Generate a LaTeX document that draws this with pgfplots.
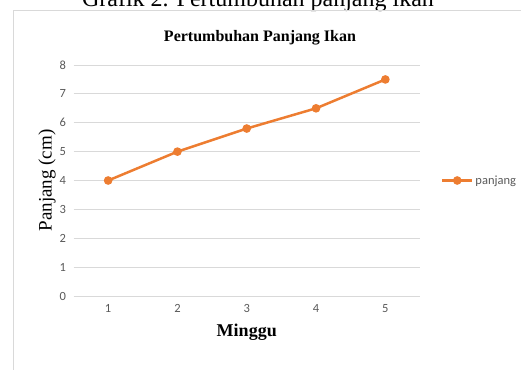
\documentclass[border=0pt]{standalone}
\usepackage{pgfplots}
\pgfplotsset{compat=1.18}
\usepackage{fontspec}
\setmainfont{Liberation Serif}
\newfontfamily\calib{Carlito}
\definecolor{exorange}{HTML}{ED7D31}
\definecolor{gridgray}{HTML}{D9D9D9}
\definecolor{ticktext}{HTML}{595959}
\begin{document}
\begin{tikzpicture}[x=1pt,y=1pt]
\clip (0,0) rectangle (521,369);
\path[use as bounding box] (0,0) rectangle (521,369);
% caption (cropped at top, as in the reference)
\node[anchor=base,font=\fontsize{24}{28}\selectfont] at (258,362) {Grafik 2. Pertumbuhan panjang ikan};
% chart frame
\draw[gridgray,line width=0.8pt] (13.5,-5) -- (13.5,358.5) -- (530,358.5);
% title
\node[anchor=base,font=\bfseries\fontsize{16}{18}\selectfont] at (260,327) {Pertumbuhan Panjang Ikan};
\begin{axis}[
  at={(73.5pt,73pt)}, anchor=south west,
  scale only axis, width=346.5pt, height=231pt,
  xmin=0.5, xmax=5.5, ymin=0, ymax=8,
  xtick={1,2,3,4,5}, ytick={0,1,...,8},
  axis line style={draw=none},
  major tick length=0pt,
  ymajorgrids, grid style={gridgray,line width=0.8pt},
  tick label style={font=\calib\fontsize{12.5}{14}\selectfont, text=ticktext},
  /pgf/number format/assume math mode=true,
  yticklabel style={xshift=-4pt},
  xticklabel style={yshift=-5pt},
  xlabel={Minggu}, xlabel style={font=\bfseries\fontsize{18}{20}\selectfont, yshift=-4pt},
  ylabel={Panjang (cm)}, ylabel style={font=\fontsize{19}{21}\selectfont, yshift=-3pt},
  clip=false,
  legend style={at={(1.06,0.5)}, anchor=west, draw=none, fill=none,
    font=\calib\fontsize{12.5}{14}\selectfont, text=ticktext, inner sep=0pt},
  legend image code/.code={\draw[exorange,line width=2.5pt] (0pt,0pt) -- (30pt,0pt); \fill[exorange] (15pt,0pt) circle (3pt);},
]
\addplot[exorange, line width=2.5pt, mark=*, mark size=3pt, mark options={fill=exorange,draw=exorange}]
  coordinates {(1,4) (2,5) (3,5.8) (4,6.5) (5,7.5)};
\addlegendentry{panjang}
\end{axis}
\end{tikzpicture}
\end{document}
